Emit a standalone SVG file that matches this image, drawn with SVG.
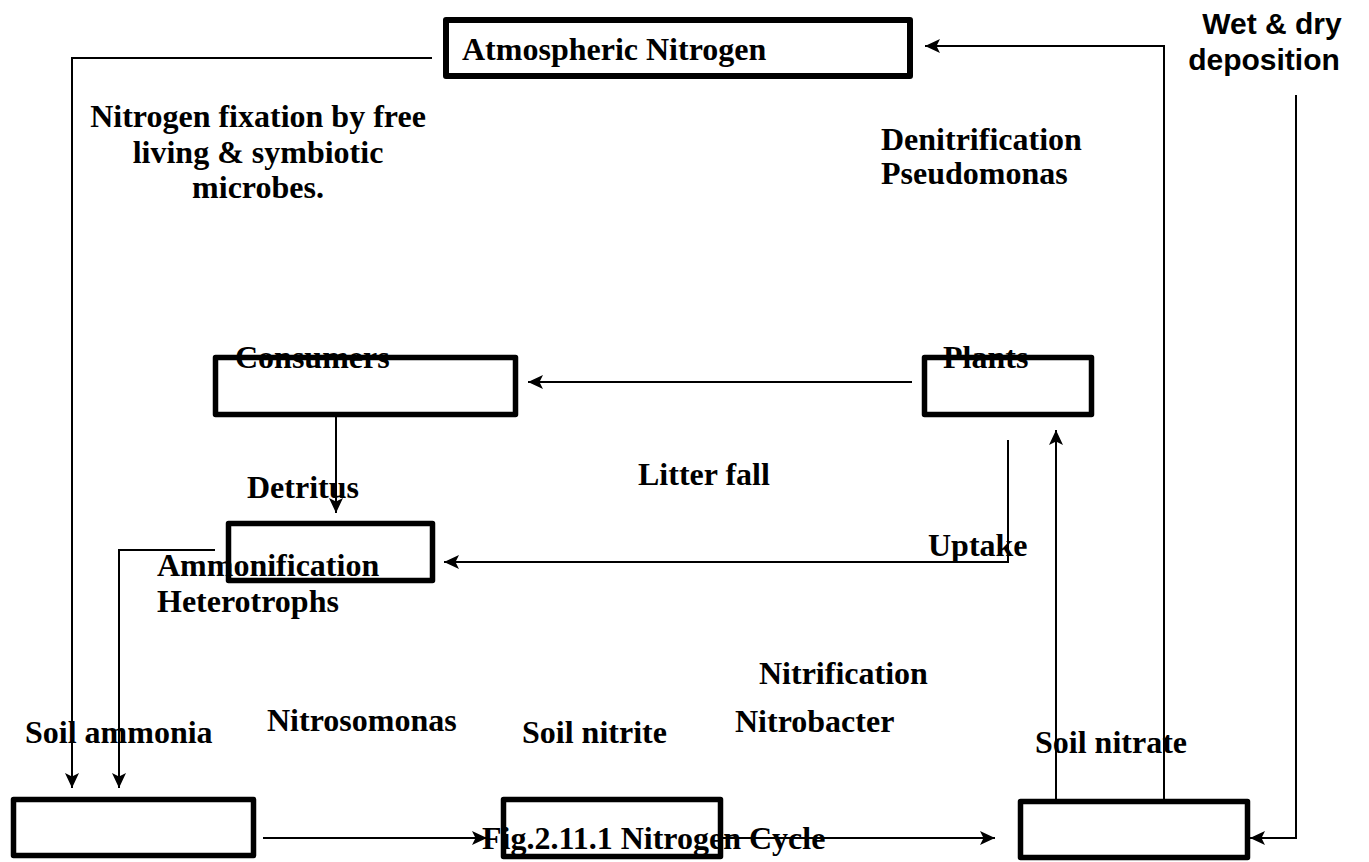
<svg xmlns="http://www.w3.org/2000/svg" width="1369" height="862" viewBox="0 0 1369 862">
  <style>
    .box { fill: none; stroke: #000; stroke-width: 5.5; stroke-linejoin: round; }
    .box-thick { stroke-width: 6; }
    .lbl { font-family: "Liberation Serif", "Times New Roman", serif; font-weight: bold; font-size: 32px; fill: #000; }
    .lbl-sans { font-family: "Liberation Sans", Arial, sans-serif; font-weight: bold; font-size: 30px; fill: #000; }
    .mid { text-anchor: middle; }
    .conn { fill: none; stroke: #000; stroke-width: 2; }
    .conn-arrow { marker-end: url(#arrow); }
  </style>
  <defs>
    <marker id="arrow" markerUnits="userSpaceOnUse" markerWidth="18" markerHeight="18" refX="16" refY="9" orient="auto">
      <path d="M1,2 L16,9 L1,16 L4.5,9 Z" fill="#000"/>
    </marker>
  </defs>
  <rect width="1369" height="862" fill="#fff"/>

  <!-- connectors -->
  <g id="connectors">
    <path class="conn conn-arrow" d="M432,58 H72 V788"/>
    <path class="conn conn-arrow" d="M215,550 H119 V788"/>
    <path class="conn conn-arrow" d="M336,417 V513"/>
    <path class="conn conn-arrow" d="M912,382 H528"/>
    <path class="conn conn-arrow" d="M1008,440 V562 H444"/>
    <path class="conn conn-arrow" d="M263,838 H487"/>
    <path class="conn conn-arrow" d="M723,838 H995"/>
    <path class="conn conn-arrow" d="M1056,800 V430"/>
    <path class="conn conn-arrow" d="M1164,800 V46 H925"/>
    <path class="conn conn-arrow" d="M1296,95 V838 H1250"/>
  </g>

  <!-- nodes -->
  <g id="atmospheric-nitrogen">
    <rect class="box box-thick" x="446" y="20" width="464" height="56"/>
    <text class="lbl" x="462" y="60">Atmospheric Nitrogen</text>
  </g>

  <g id="consumers">
    <rect class="box" x="215.5" y="357.5" width="300" height="57"/>
    <text class="lbl" x="235" y="368">Consumers</text>
  </g>

  <g id="plants">
    <rect class="box" x="924.5" y="357.5" width="167" height="57"/>
    <text class="lbl" x="943" y="368">Plants</text>
  </g>

  <g id="ammonification">
    <rect class="box" x="228.5" y="523.5" width="204" height="57"/>
    <text class="lbl" x="157" y="576">Ammonification</text>
    <text class="lbl" x="157" y="612">Heterotrophs</text>
  </g>

  <g id="soil-ammonia">
    <rect class="box" x="13.5" y="799.5" width="240" height="56"/>
    <text class="lbl" x="25" y="743">Soil ammonia</text>
  </g>

  <g id="soil-nitrite">
    <rect class="box" x="503.5" y="799.5" width="217" height="57"/>
    <text class="lbl" x="522" y="743">Soil nitrite</text>
  </g>

  <g id="soil-nitrate">
    <rect class="box" x="1020.5" y="801.5" width="227" height="56"/>
    <text class="lbl" x="1035" y="753">Soil nitrate</text>
  </g>

  <!-- process labels -->
  <g id="labels">
    <text class="lbl mid" x="258" y="127">Nitrogen fixation by free</text>
    <text class="lbl mid" x="258" y="163">living &amp; symbiotic</text>
    <text class="lbl mid" x="258" y="198">microbes.</text>

    <text class="lbl" x="881" y="150">Denitrification</text>
    <text class="lbl" x="881" y="184">Pseudomonas</text>

    <text class="lbl-sans mid" x="1272" y="34">Wet &amp; dry</text>
    <text class="lbl-sans mid" x="1264" y="70">deposition</text>

    <text class="lbl" x="247" y="498">Detritus</text>
    <text class="lbl" x="638" y="485">Litter fall</text>
    <text class="lbl" x="928" y="556">Uptake</text>

    <text class="lbl" x="759" y="684">Nitrification</text>
    <text class="lbl" x="735" y="732">Nitrobacter</text>
    <text class="lbl" x="267" y="731">Nitrosomonas</text>

    <text class="lbl" x="482" y="849">Fig.2.11.1 Nitrogen Cycle</text>
  </g>
</svg>
